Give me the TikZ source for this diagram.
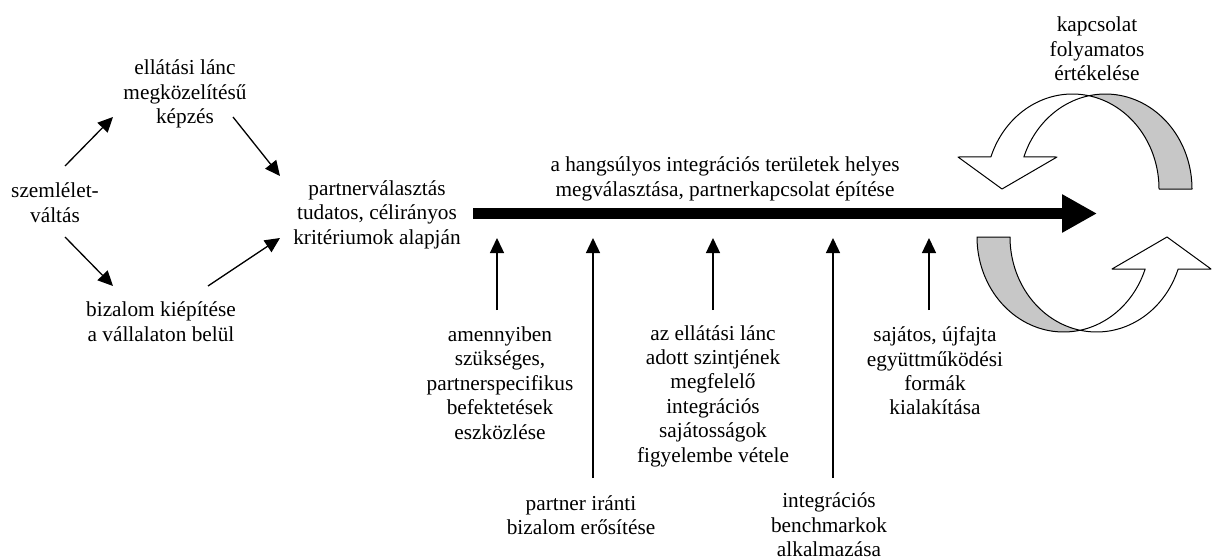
\documentclass[tikz,border=0pt]{standalone}
\usepackage{fontspec}
\setmainfont{Liberation Serif}
\usetikzlibrary{arrows.meta}
\tikzset{
  txt/.style={font=\fontsize{21.3}{24.4}\selectfont, align=center, inner sep=0pt},
  thinarrow/.style={line width=1.3pt, -{Triangle[length=15pt 0 0,width=14pt 0 0]}},
  bigarrow/.style={line width=11.5pt, -{Triangle[length=35pt 0 0,width=36pt 0 0]}},
  frontband/.style={draw=black, line width=1pt, fill=white, line join=round},
  backband/.style={draw=black, line width=1pt, fill=black!22, line join=round},
  ribbonpic/.pic={
    \path[backband] plot[domain=280.98:360, samples=40] ({1072.4+86.6*cos(\x)},{189+95*sin(\x)})
       -- plot[domain=360:259.02, samples=40] ({1105.4+86.6*cos(\x)},{189+95*sin(\x)}) -- cycle;
    \path[frontband] plot[domain=199.69:280.98, samples=40] ({1072.4+86.6*cos(\x)},{189+95*sin(\x)})
       -- plot[domain=259.02:199.69, samples=40] ({1105.4+86.6*cos(\x)},{189+95*sin(\x)})
       -- (1057,157) -- (1002,189) -- (958,157) -- cycle;
  }
}
\begin{document}
\begin{tikzpicture}[x=1pt,y=-1pt]
\useasboundingbox (0,0) rectangle (1212,559);

% text nodes
\node[txt] (ell) at (185,94) {ellátási lánc\\megközelítésű\\képzés};
\node[txt] (szem) at (55,202.5) {szemlélet-\\váltás};
\node[txt] (biz) at (161,321.5) {bizalom kiépítése\\a vállalaton belül};
\node[txt] (partner) at (377,214.5) {partnerválasztás\\tudatos, célirányos\\kritériumok alapján};
\node[txt] (hangs) at (725,179) {a hangsúlyos integrációs területek helyes\\megválasztása, partnerkapcsolat építése};
\node[txt] (amenny) at (500,383) {amennyiben\\szükséges,\\partnerspecifikus\\befektetések\\eszközlése};
\node[txt] (pira) at (581,515) {partner iránti\\bizalom erősítése};
\node[txt] (ella) at (713,396) {az ellátási lánc\\adott szintjének\\megfelelő\\integrációs\\sajátosságok\\figyelembe vétele};
\node[txt] (bench) at (829,525) {integrációs\\benchmarkok\\alkalmazása};
\node[txt] (saj) at (935,371) {sajátos, újfajta\\együttműködési\\formák\\kialakítása};
\node[txt] (kapcs) at (1097,49) {kapcsolat\\folyamatos\\értékelése};

% left arrows
\coordinate (s1) at (65,166);  \coordinate (e1) at (113,117);
\coordinate (s2) at (233,117); \coordinate (e2) at (280,176);
\coordinate (s3) at (65,237);  \coordinate (e3) at (113,286);
\coordinate (s4) at (208,286); \coordinate (e4) at (280,238);
\draw[thinarrow] (s1) -- (e1);
\draw[thinarrow] (s2) -- (e2);
\draw[thinarrow] (s3) -- (e3);
\draw[thinarrow] (s4) -- (e4);

% main thick arrow
\coordinate (mstart) at (473,213.5);
\coordinate (mend) at (1097,213.5);
\draw[bigarrow] (mstart) -- (mend);

% upward arrows
\coordinate (u1b) at (497,310); \coordinate (u1t) at (497,238);
\coordinate (u2b) at (593,478); \coordinate (u2t) at (593,238);
\coordinate (u3b) at (713,310); \coordinate (u3t) at (713,238);
\coordinate (u4b) at (833,478); \coordinate (u4t) at (833,238);
\coordinate (u5b) at (929,310); \coordinate (u5t) at (929,238);
\draw[thinarrow] (u1b) -- (u1t);
\draw[thinarrow] (u2b) -- (u2t);
\draw[thinarrow] (u3b) -- (u3t);
\draw[thinarrow] (u4b) -- (u4t);
\draw[thinarrow] (u5b) -- (u5t);

% circular ribbon arrows
\pic at (0,0) {ribbonpic};
\pic[rotate=180] at (2169,426) {ribbonpic};
\end{tikzpicture}
\end{document}
